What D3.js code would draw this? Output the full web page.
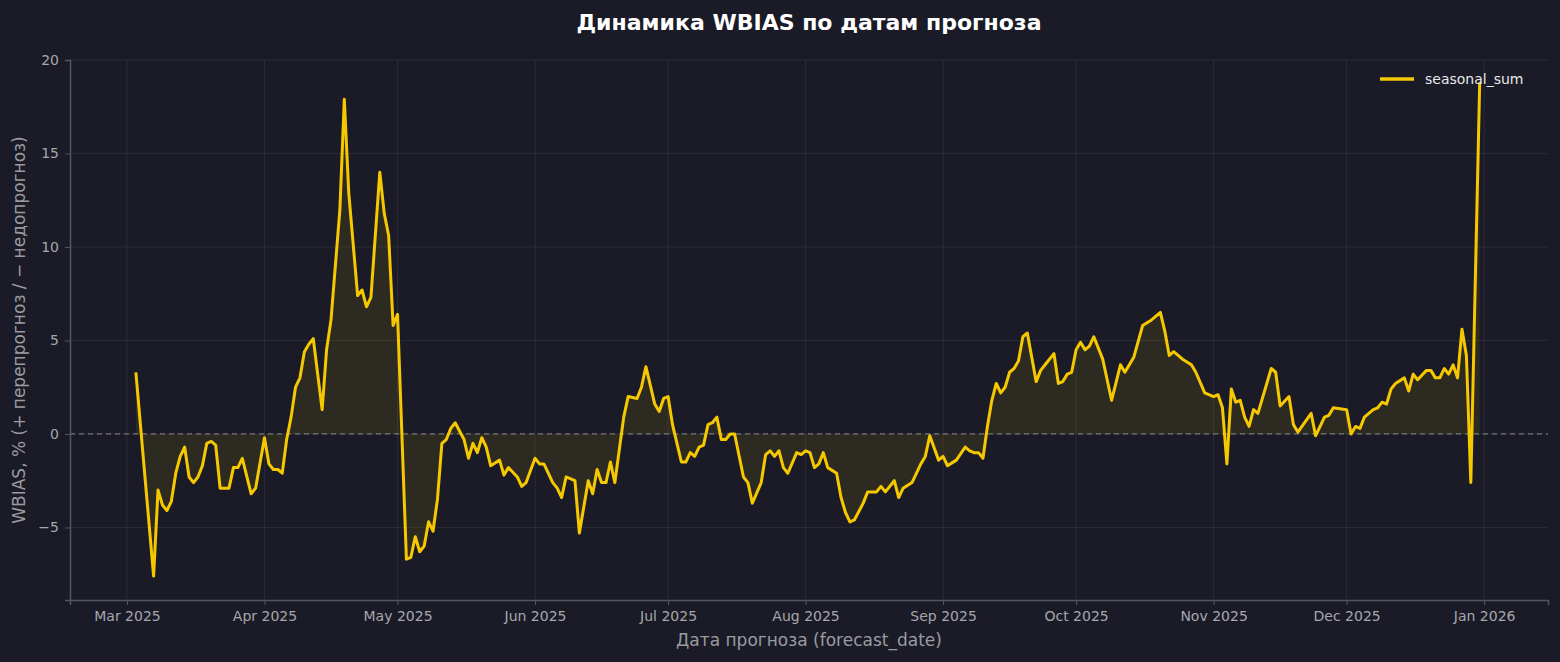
<!DOCTYPE html>
<html><head><meta charset="utf-8">
<script src="https://cdn.jsdelivr.net/npm/d3@7"></script>
<style>body{margin:0;background:#1a1b26;}svg{display:block;font-family:"DejaVu Sans",sans-serif;}</style>
</head><body><svg id="c" width="1560" height="662"></svg>
<script>
const startDate = "2025-03-01";
const dayOffset = [2,6,7,8,9,10,11,12,13,14,15,16,17,18,19,20,21,23,24,25,26,28,29,31,32,33,34,35,36,37,38,39,40,41,42,44,45,46,48,49,50,52,53,54,55,57,58,59,60,61,63,64,65,66,67,68,69,70,71,72,73,74,76,77,78,79,80,81,82,84,85,86,88,89,90,92,93,94,96,97,98,99,101,102,104,105,106,107,108,109,110,112,113,115,116,117,119,120,121,122,123,125,126,127,128,129,130,131,132,133,134,135,136,137,139,140,141,143,144,145,146,147,148,149,151,152,153,154,155,156,157,158,160,161,162,163,164,166,167,169,170,171,173,174,175,177,179,180,181,183,184,185,187,189,190,191,192,193,194,195,196,197,198,199,200,201,202,203,205,206,207,209,210,211,212,213,214,215,216,217,218,220,222,224,225,227,229,231,233,234,235,236,238,240,241,243,245,246,247,248,249,250,251,252,253,254,255,258,259,260,262,263,264,267,268,270,271,272,275,276,277,278,279,281,282,283,284,285,286,288,289,290,291,293,294,295,296,297,298,299,300,301,302,303,305];
const seasonalSum = [3.3,-7.6,-3.0,-3.8,-4.1,-3.6,-2.1,-1.2,-0.7,-2.3,-2.6,-2.3,-1.7,-0.5,-0.4,-0.6,-2.9,-2.9,-1.8,-1.8,-1.3,-3.2,-2.9,-0.2,-1.6,-1.9,-1.9,-2.1,-0.3,0.9,2.5,3.0,4.4,4.8,5.1,1.3,4.5,6.1,12.0,17.9,12.9,7.4,7.7,6.8,7.3,14.0,11.8,10.6,5.8,6.4,-6.7,-6.6,-5.5,-6.3,-6.0,-4.7,-5.2,-3.5,-0.5,-0.3,0.3,0.6,-0.3,-1.3,-0.5,-1.0,-0.2,-0.7,-1.7,-1.4,-2.2,-1.8,-2.3,-2.8,-2.6,-1.3,-1.6,-1.6,-2.6,-2.9,-3.4,-2.3,-2.5,-5.3,-2.5,-3.2,-1.9,-2.6,-2.6,-1.5,-2.6,0.9,2.0,1.9,2.5,3.6,1.6,1.2,1.9,2.0,0.5,-1.5,-1.5,-1.0,-1.2,-0.7,-0.6,0.5,0.6,0.9,-0.3,-0.3,0.0,0.0,-2.3,-2.6,-3.7,-2.6,-1.1,-0.9,-1.2,-0.9,-1.8,-2.1,-1.0,-1.1,-0.9,-1.0,-1.8,-1.6,-1.0,-1.8,-2.1,-3.4,-4.2,-4.7,-4.6,-3.7,-3.1,-3.1,-2.8,-3.1,-2.5,-3.4,-2.9,-2.6,-1.6,-1.2,-0.1,-1.4,-1.2,-1.7,-1.4,-0.7,-0.9,-1.0,-1.0,-1.3,0.4,1.8,2.7,2.2,2.5,3.3,3.5,3.9,5.2,5.4,2.8,3.4,3.7,4.3,2.7,2.8,3.2,3.3,4.5,4.9,4.5,4.7,5.2,4.0,1.8,3.7,3.3,4.1,5.8,6.1,6.5,5.5,4.2,4.4,4.0,3.7,3.3,2.2,2.0,2.1,1.4,-1.6,2.4,1.7,1.8,0.9,0.4,1.3,1.1,3.5,3.3,1.5,2.0,0.5,0.1,1.1,-0.1,0.9,1.0,1.4,1.3,0.0,0.4,0.3,0.9,1.3,1.4,1.7,1.6,2.4,2.7,3.0,2.3,3.2,2.9,3.4,3.4,3.0,3.0,3.5,3.2,3.7,3.0,5.6,4.2,-2.6,18.8];
const yTicks = [-5,0,5,10,15,20];
const xTickLabels = ["Mar 2025","Apr 2025","May 2025","Jun 2025","Jul 2025","Aug 2025","Sep 2025","Oct 2025","Nov 2025","Dec 2025","Jan 2026"];
const xTickDates = ["2025-03-01","2025-04-01","2025-05-01","2025-06-01","2025-07-01","2025-08-01","2025-09-01","2025-10-01","2025-11-01","2025-12-01","2026-01-01"];

const t0 = new Date(startDate+"T00:00:00Z");
const DAY = 86400000;
const data = dayOffset.map((d,i)=>({date:new Date(t0.getTime()+d*DAY), v:seasonalSum[i]}));

const L=70,R=1548,T=60,B=600;
const svg=d3.select("#c");
svg.append("rect").attr("width",1560).attr("height",662).attr("fill","#1a1b26");
const x=d3.scaleUtc().domain([new Date(t0.getTime()-12.85*DAY), new Date(t0.getTime()+320.4*DAY)]).range([L,R]);
const y=d3.scaleLinear().domain([-8.88,20]).range([B,T]);
const g=svg.append("g");
// grid
xTickDates.forEach(s=>{const px=x(new Date(s+"T00:00:00Z"));
  g.append("line").attr("x1",px).attr("x2",px).attr("y1",T).attr("y2",B).attr("stroke","#ffffff").attr("stroke-opacity",0.07);});
yTicks.forEach(v=>g.append("line").attr("x1",L).attr("x2",R).attr("y1",y(v)).attr("y2",y(v)).attr("stroke","#ffffff").attr("stroke-opacity",0.07));
// area
g.append("path").datum(data).attr("d",d3.area().x(d=>x(d.date)).y0(y(0)).y1(d=>y(d.v)))
 .attr("fill","#f5c800").attr("fill-opacity",0.09);
g.append("line").attr("x1",L).attr("x2",R).attr("y1",y(0)).attr("y2",y(0)).attr("stroke","#8a8a8a").attr("stroke-width",1.2).attr("stroke-dasharray","5,4").attr("opacity",0.8);
g.append("path").datum(data).attr("d",d3.line().x(d=>x(d.date)).y(d=>y(d.v)))
 .attr("fill","none").attr("stroke","#f5c800").attr("stroke-width",3).attr("stroke-linejoin","round");
// axes
const xa=svg.append("g").attr("transform",`translate(0,${B})`).call(d3.axisBottom(x).tickValues(xTickDates.map(s=>new Date(s+"T00:00:00Z"))).tickFormat((d,i)=>xTickLabels[i]).tickSizeOuter(0).tickSize(5).tickPadding(6));
const ya=svg.append("g").attr("transform",`translate(${L},0)`).call(d3.axisLeft(y).tickValues(yTicks).tickSizeOuter(0).tickSize(5).tickPadding(6));
[xa,ya].forEach(a=>{a.select(".domain").attr("stroke","#55565f").attr("stroke-width",1.5);
  a.selectAll(".tick line").attr("stroke","#55565f");
  a.selectAll("text").attr("fill","#a6a7ad").attr("font-size",14).attr("font-family","DejaVu Sans");});
svg.append("text").attr("x",809).attr("y",30).attr("text-anchor","middle").attr("fill","#ffffff").attr("font-size",22).attr("font-weight","bold").text("Динамика WBIAS по датам прогноза");
svg.append("text").attr("x",809).attr("y",646).attr("text-anchor","middle").attr("fill","#9a9ba1").attr("font-size",17).text("Дата прогноза (forecast_date)");
svg.append("text").attr("transform","translate(25,330) rotate(-90)").attr("text-anchor","middle").attr("fill","#9a9ba1").attr("font-size",17).text("WBIAS, % (+ перепрогноз / − недопрогноз)");
svg.append("line").attr("x1",1380).attr("x2",1414).attr("y1",79).attr("y2",79).attr("stroke","#f5c800").attr("stroke-width",3.5);
svg.append("text").attr("x",1425).attr("y",84).attr("fill","#e8e8ea").attr("font-size",14).text("seasonal_sum");
</script></body></html>
